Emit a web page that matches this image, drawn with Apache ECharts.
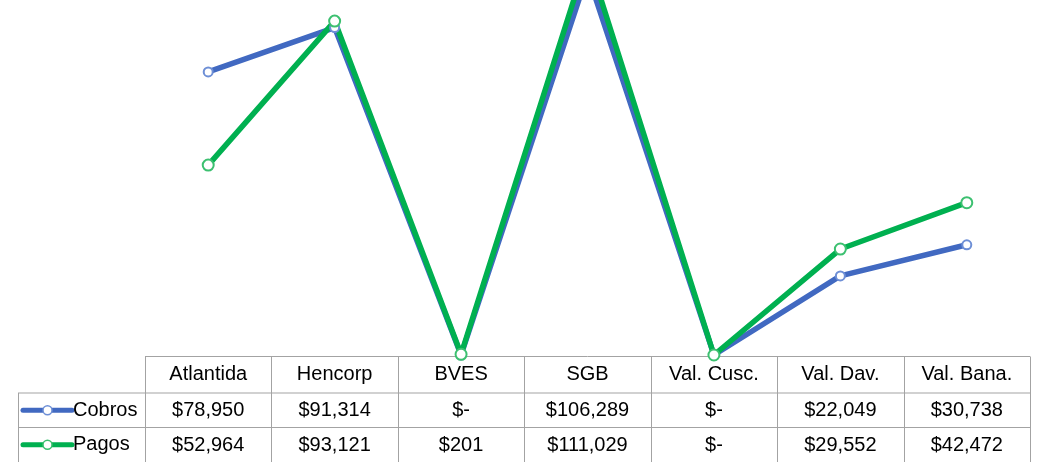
<!DOCTYPE html>
<html>
<head>
<meta charset="utf-8">
<style>
  html, body { margin: 0; padding: 0; background: #fff; }
  #chart { width: 1041px; height: 462px; }
</style>
<script src="https://cdn.jsdelivr.net/npm/echarts@6/dist/echarts.min.js"></script>
</head>
<body>
<div id="chart"></div>
<script>
const categories = ["Atlantida", "Hencorp", "BVES", "SGB", "Val. Cusc.", "Val. Dav.", "Val. Bana."];
const seriesNames = ["Cobros", "Pagos"];
const cobros = [78950, 91314, 0, 106289, 0, 22049, 30738];
const pagos = [52964, 93121, 201, 111029, 0, 29552, 42472];

const FONT = "'Liberation Sans', Arial, sans-serif";
const FONT_SIZE = 20;
const GRID_LEFT = 145;
const GRID_RIGHT = 1030;
const ZERO_Y = 355;
const BORDER = "#a3a3a3";
const LINE_COLORS = ["#4169C1", "#00B050"];
const MARK_COLORS = ["#6E8FD6", "#3CC070"];
const ROWS = [356.5, 393, 427.5, 462];

function money(v) {
  if (!v) return "$-";
  return "$" + v.toLocaleString("en-US");
}

// table borders (data table under the plot, Excel style)
function tableLines() {
  const lines = [];
  const colW = (GRID_RIGHT - GRID_LEFT) / categories.length;
  const add = (x1, y1, x2, y2) => lines.push({
    type: "line",
    shape: { x1, y1, x2, y2 },
    style: { stroke: BORDER, lineWidth: 1 },
    silent: true
  });
  add(GRID_LEFT, ROWS[0], GRID_RIGHT, ROWS[0]);
  add(18, ROWS[1], GRID_RIGHT, ROWS[1]);
  add(18, ROWS[2], GRID_RIGHT, ROWS[2]);
  add(18.5, ROWS[1], 18.5, 462);
  for (let i = 0; i <= categories.length; i++) {
    const x = Math.round(GRID_LEFT + i * colW) + 0.5;
    add(x, ROWS[0], x, 462);
  }
  return lines;
}

// legend keys in the row headers
function legendKeys() {
  const out = [];
  seriesNames.forEach((name, i) => {
    const y = (ROWS[i + 1] + ROWS[i + 2]) / 2;
    out.push({
      type: "line",
      shape: { x1: 23, y1: y, x2: 72, y2: y },
      style: { stroke: LINE_COLORS[i], lineWidth: 5, lineCap: "round" },
      silent: true
    });
    out.push({
      type: "circle",
      shape: { cx: 47.5, cy: y, r: 4.5 },
      style: { fill: "#fff", stroke: MARK_COLORS[i], lineWidth: 1.5 },
      silent: true
    });
    out.push({
      type: "text",
      x: 73,
      y: y,
      style: {
        text: name,
        fill: "#000",
        font: FONT_SIZE + "px " + FONT,
        verticalAlign: "middle",
        align: "left"
      },
      silent: true
    });
  });
  return out;
}

const chart = echarts.init(document.getElementById("chart"));

const tableAxis = (offset, formatter) => ({
  type: "category",
  data: categories,
  position: "bottom",
  offset,
  axisLine: { show: false },
  axisTick: { show: false },
  splitLine: { show: false },
  axisLabel: {
    interval: 0,
    margin: 19,
    verticalAlign: "middle",
    color: "#000",
    fontFamily: FONT,
    fontSize: FONT_SIZE,
    formatter
  }
});

chart.setOption({
  animation: false,
  grid: { left: GRID_LEFT, right: 1041 - GRID_RIGHT, top: 0, bottom: 462 - ZERO_Y },
  xAxis: [
    tableAxis(0, (v) => v),
    tableAxis(36, (v, i) => money(cobros[i])),
    tableAxis(71, (v, i) => money(pagos[i]))
  ],
  yAxis: {
    type: "value",
    min: 0,
    max: 99000,
    show: false,
    splitLine: { show: false }
  },
  series: [
    {
      name: seriesNames[0],
      type: "line",
      data: cobros,
      symbol: "emptyCircle",
      symbolSize: 9,
      lineStyle: { width: 5.5, color: LINE_COLORS[0] },
      itemStyle: { color: MARK_COLORS[0], borderWidth: 1.5 }
    },
    {
      name: seriesNames[1],
      type: "line",
      data: pagos,
      symbol: "emptyCircle",
      symbolSize: 11,
      lineStyle: { width: 5.5, color: LINE_COLORS[1] },
      itemStyle: { color: MARK_COLORS[1], borderWidth: 1.5 }
    }
  ],
  graphic: tableLines().concat(legendKeys())
});
</script>
</body>
</html>
